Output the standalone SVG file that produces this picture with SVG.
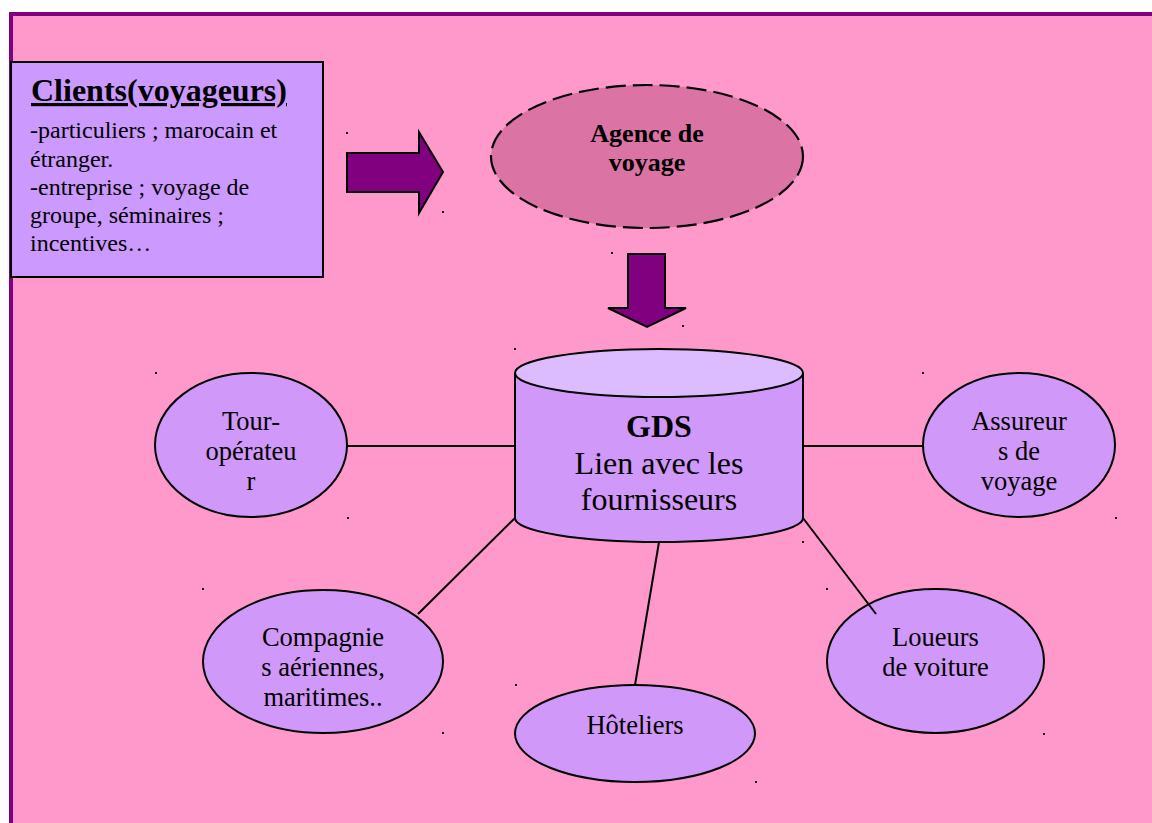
<svg xmlns="http://www.w3.org/2000/svg" width="1152" height="823" viewBox="0 0 1152 823">
<defs>
<style>
.t{font-family:"Liberation Serif","Times New Roman",serif;fill:#000;}
.c{text-anchor:middle;font-size:26.5px;}
.node{fill:#d098f8;stroke:#000;stroke-width:2;}
.link{stroke:#000;stroke-width:2;fill:none;}
.arrow{fill:#800080;stroke:#000;stroke-width:2;stroke-linejoin:miter;}
.dot{fill:#000;}
</style>
</defs>
<rect x="0" y="0" width="1152" height="823" fill="#ffffff"/>
<rect x="11" y="14" width="1200" height="900" fill="#ff99cc" stroke="#800080" stroke-width="4"/>

<g id="clients">
<rect x="11" y="62" width="312" height="215" fill="#cc99ff" stroke="#000" stroke-width="2"/>
<text class="t" x="31" y="101" font-size="32" font-weight="bold" text-decoration="underline">Clients(voyageurs)</text>
<text class="t" font-size="24">
<tspan x="30" y="138">-particuliers ; marocain et</tspan>
<tspan x="30" y="167">étranger.</tspan>
<tspan x="30" y="195">-entreprise ; voyage de</tspan>
<tspan x="30" y="223">groupe, séminaires ;</tspan>
<tspan x="30" y="251">incentives…</tspan>
</text>
</g>

<g id="arrow-right">
<polygon class="arrow" points="347,153 419,153 419,132 443,172 419,213 419,192 347,192"/>
</g>

<g id="agence">
<ellipse cx="647" cy="156.5" rx="156" ry="71.5" fill="#db74a4" stroke="#000" stroke-width="2.2" stroke-dasharray="20 7"/>
<text class="t" text-anchor="middle" font-size="26" font-weight="bold"><tspan x="647" y="142">Agence de</tspan><tspan x="647" y="171">voyage</tspan></text>
</g>

<g id="arrow-down">
<polygon class="arrow" points="628,254 665,254 665,308 686,308 647,327 608,308 628,308"/>
</g>

<g id="gds">
<path d="M515,373 L515,518 A144,24 0 0 0 803,518 L803,373" class="node"/>
<ellipse cx="659" cy="373" rx="144" ry="24" fill="#dcbcff" stroke="#000" stroke-width="2"/>
<text class="t" text-anchor="middle" font-size="32"><tspan x="659" y="437" font-weight="bold">GDS</tspan><tspan x="659" y="474">Lien avec les</tspan><tspan x="659" y="510">fournisseurs</tspan></text>
</g>

<g id="tour-operateur">
<ellipse class="node" cx="251" cy="445" rx="96" ry="72"/>
<text class="t c"><tspan x="251" y="430">Tour-</tspan><tspan x="251" y="460">opérateu</tspan><tspan x="251" y="490">r</tspan></text>
</g>

<g id="assureurs">
<ellipse class="node" cx="1019" cy="445" rx="96" ry="72"/>
<text class="t c"><tspan x="1019" y="430">Assureur</tspan><tspan x="1019" y="460">s de</tspan><tspan x="1019" y="490">voyage</tspan></text>
</g>

<g id="compagnies">
<ellipse class="node" cx="323" cy="661.5" rx="120" ry="71.5"/>
<text class="t c"><tspan x="323" y="646">Compagnie</tspan><tspan x="323" y="676">s aériennes,</tspan><tspan x="323" y="706">maritimes..</tspan></text>
</g>

<g id="loueurs">
<ellipse class="node" cx="935.5" cy="661" rx="108.5" ry="72"/>
<text class="t c"><tspan x="935.5" y="646">Loueurs</tspan><tspan x="935.5" y="676">de voiture</tspan></text>
</g>

<g id="hoteliers">
<ellipse class="node" cx="635" cy="733.5" rx="120" ry="48.5"/>
<text class="t c" x="635" y="734">Hôteliers</text>
</g>

<g id="connectors">
<line class="link" x1="347" y1="446" x2="515" y2="446"/>
<line class="link" x1="803" y1="446" x2="923" y2="446"/>
<line class="link" x1="515" y1="518" x2="418" y2="614"/>
<line class="link" x1="803" y1="518" x2="876" y2="614"/>
<line class="link" x1="659" y1="542" x2="635" y2="685"/>
</g>

<g id="dots">
<rect class="dot" x="346" y="132" width="2" height="2"/>
<rect class="dot" x="442" y="211" width="2" height="2"/>
<rect class="dot" x="611" y="252" width="2" height="2"/>
<rect class="dot" x="682" y="325" width="2" height="2"/>
<rect class="dot" x="514" y="348" width="2" height="2"/>
<rect class="dot" x="155" y="372" width="2" height="2"/>
<rect class="dot" x="922" y="372" width="2" height="2"/>
<rect class="dot" x="347" y="517" width="2" height="2"/>
<rect class="dot" x="1115" y="517" width="2" height="2"/>
<rect class="dot" x="802" y="541" width="2" height="2"/>
<rect class="dot" x="202" y="588" width="2" height="2"/>
<rect class="dot" x="826" y="588" width="2" height="2"/>
<rect class="dot" x="515" y="684" width="2" height="2"/>
<rect class="dot" x="442" y="732" width="2" height="2"/>
<rect class="dot" x="1043" y="733" width="2" height="2"/>
<rect class="dot" x="755" y="781" width="2" height="2"/>
</g>
</svg>
